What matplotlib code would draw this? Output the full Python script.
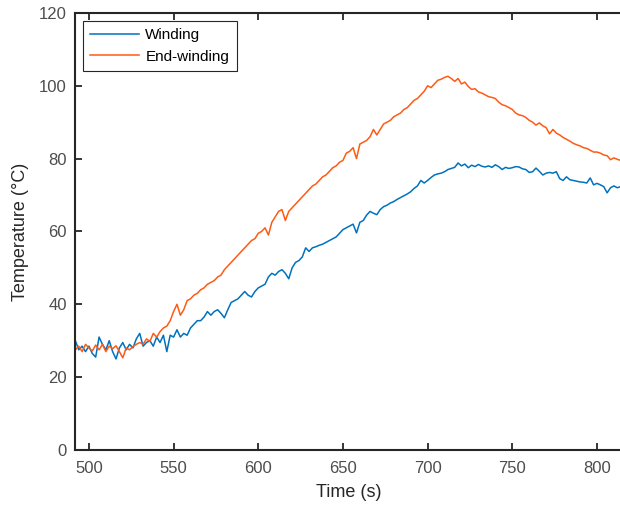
import numpy as np
import matplotlib.pyplot as plt

# mesures relevees (pas de 2 s, de 492 a 814 s)
t_start = 492
t_step = 2

winding = [
    30.0, 27.5, 28.5, 27.0, 28.5, 26.5, 25.5, 31.0, 29.0, 27.5,
    30.0, 27.0, 25.0, 28.0, 29.5, 27.5, 29.0, 28.0, 30.5, 32.0,
    28.5, 29.5, 30.0, 28.5, 31.0, 29.5, 31.5, 27.0, 31.5, 31.0,
    33.0, 31.0, 32.0, 31.5, 33.5, 34.5, 35.5, 35.5, 36.5, 38.0,
    37.0, 38.0, 38.5, 37.5, 36.3, 38.5, 40.5, 41.0, 41.5, 42.5,
    43.5, 42.5, 42.0, 43.5, 44.5, 45.0, 45.5, 47.5, 48.5, 48.0,
    49.0, 49.5, 48.5, 47.0, 50.0, 51.5, 52.0, 53.0, 55.5, 54.5,
    55.5, 55.8, 56.2, 56.5, 57.0, 57.5, 58.0, 58.5, 59.5, 60.5,
    61.0, 61.5, 62.0, 59.6, 62.5, 63.0, 64.5, 65.5, 65.0, 64.6,
    66.0, 66.8, 67.2, 67.8, 68.2, 68.8, 69.3, 69.8, 70.3, 70.9,
    71.8, 72.5, 74.0, 73.3, 74.0, 74.8, 75.5, 75.8, 76.0, 76.4,
    77.0, 77.3, 77.6, 78.8, 78.0, 78.5, 77.5, 78.2, 77.8, 78.4,
    77.9, 77.7, 78.0, 77.6, 78.3, 77.8, 77.0, 77.6, 77.3, 77.5,
    77.8, 77.7, 77.2, 77.0, 76.2, 76.4, 77.4, 76.5, 75.5, 76.0,
    76.2, 76.0, 76.4, 74.5, 74.0, 75.0, 74.2, 74.0, 73.8, 73.6,
    73.5, 73.3, 74.7, 72.8, 73.2, 72.8, 72.3, 70.6, 72.0, 72.5,
    72.0, 72.3,
]

end_winding = [
    27.5, 28.5, 27.0, 29.0, 28.0, 27.2, 28.8, 27.5, 29.0, 27.0,
    28.5, 27.8, 28.6, 27.0, 25.3, 28.0, 27.5, 28.4, 29.0, 29.5,
    29.0, 30.5, 29.8, 32.0, 31.0, 32.5, 33.5, 34.0, 35.5, 38.0,
    40.0, 37.0, 38.5, 41.0, 41.5, 42.5, 43.0, 44.0, 44.5, 45.5,
    46.0, 46.5, 47.5, 48.0, 49.5, 50.5, 51.5, 52.5, 53.5, 54.5,
    55.5, 56.5, 57.5, 58.0, 59.5, 60.0, 61.0, 59.0, 62.5, 64.0,
    65.5, 66.0, 63.0, 65.5, 66.5, 67.5, 68.5, 69.5, 70.5, 71.5,
    72.5, 73.0, 74.0, 75.0, 75.5, 76.5, 77.5, 78.0, 79.0, 79.5,
    81.5, 82.0, 83.0, 80.0, 84.0, 84.5, 85.0, 86.0, 88.0, 86.5,
    88.0, 89.5, 90.0, 90.5, 91.5, 92.0, 92.5, 93.5, 94.0, 95.0,
    96.0, 96.5, 97.5, 98.5, 100.0, 99.5, 100.5, 101.5, 101.8, 102.3,
    102.6, 102.0, 101.2, 102.0, 100.5, 101.0, 99.8, 99.0, 99.2, 98.3,
    98.0, 97.5, 97.0, 96.8, 96.5, 95.5, 94.8, 94.5, 94.0, 93.5,
    92.5, 92.0, 91.8, 91.3, 90.5, 90.0, 89.2, 89.8, 89.0, 88.5,
    86.8, 88.0, 87.0, 86.5, 85.8, 85.3, 84.8, 84.2, 83.8, 83.5,
    83.0, 82.8, 82.3, 81.8, 81.8, 81.5, 81.0, 80.8, 79.7, 80.2,
    79.8, 79.5,
]

time = t_start + t_step * np.arange(len(winding))

plt.rcParams['font.family'] = ['Liberation Sans', 'DejaVu Sans']

fig = plt.figure(figsize=(6.2, 5.09), dpi=100)
ax = fig.add_axes([0.121, 0.116, 0.882, 0.8586])

ax.plot(time, winding, color='#0072BD', lw=1.1, label='Winding')
ax.plot(time, end_winding, color='#FF5A14', lw=1.1, label='End-winding')

ax.set_xlim(491.8, 814.7)
ax.set_ylim(0, 120)
ax.set_xticks([500, 550, 600, 650, 700, 750, 800])
ax.set_yticks([0, 20, 40, 60, 80, 100, 120])

for s in ax.spines.values():
    s.set_color('#262626')
    s.set_linewidth(1.5)
ax.tick_params(direction='in', length=5, width=1.3, color='#262626',
               top=True, right=False, labelsize=12, labelcolor='#4d4d4d')
ax.tick_params(axis='x', pad=8)
ax.tick_params(axis='y', pad=6)

ax.set_xlabel('Time (s)', fontsize=13, color='#262626', labelpad=6)
ax.set_ylabel('Temperature (°C)', fontsize=13, color='#262626', labelpad=7)

leg = ax.legend(loc='upper left', fontsize=11, fancybox=False, framealpha=1,
                edgecolor='#262626', borderaxespad=0.5, handlelength=3.2,
                handletextpad=0.4, borderpad=0.5, labelspacing=0.5)
leg.get_frame().set_linewidth(0.8)

fig.savefig('out.png', dpi=100)
